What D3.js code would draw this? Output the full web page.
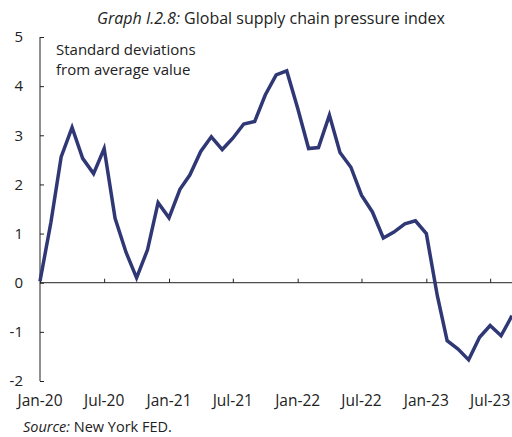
<!DOCTYPE html>
<html>
<head>
<meta charset="utf-8">
<script src="https://cdn.jsdelivr.net/npm/d3@7"></script>
<style>
  body { margin: 0; background: #fff; }
  text { font-family: "Open Sans", "Liberation Sans", sans-serif; fill: #222; }
</style>
</head>
<body>
<div id="chart"></div>
<script>
// monthly GSCPI values, Jan-20 .. Sep-23
const months = d3.timeMonths(new Date(2020, 0, 1), new Date(2023, 9, 1));
const values = [
  0.03, 1.23, 2.56, 3.16, 2.53, 2.22, 2.73, 1.31, 0.62, 0.10, 0.67, 1.63,
  1.32, 1.90, 2.19, 2.67, 2.97, 2.71, 2.94, 3.23, 3.28, 3.82, 4.23, 4.31,
  3.55, 2.73, 2.75, 3.41, 2.65, 2.35, 1.78, 1.44, 0.91, 1.03, 1.20, 1.26,
  1.00, -0.26, -1.18, -1.35, -1.57, -1.11, -0.87, -1.08, -0.67
];
const yTicks = [-2, -1, 0, 1, 2, 3, 4, 5];
const xTicks = d3.timeMonths(new Date(2020, 0, 1), new Date(2023, 7, 1), 6);

const data = months.map((m, i) => ({date: m, value: values[i]}));

// dimensions
const width = 512, height = 437;
const mLeft = 40, mRight = 512, mTop = 37, mBottom = 381;

const x = d3.scaleTime().domain([months[0], months[months.length - 1]]).range([mLeft, mRight]);
const y = d3.scaleLinear().domain([-2, 5]).range([mBottom, mTop]);

const svg = d3.select("#chart").append("svg")
    .attr("width", width)
    .attr("height", height);

// title
const title = svg.append("text").attr("x", 271).attr("y", 24)
    .attr("text-anchor", "middle").attr("font-size", 16);
title.append("tspan").attr("font-style", "italic").text("Graph I.2.8:");
title.append("tspan").text(" Global supply chain pressure index");

// y axis
const yAxis = svg.append("g").attr("transform", `translate(${mLeft},0)`)
    .call(d3.axisLeft(y).tickValues(yTicks).tickSize(-4).tickPadding(17).tickFormat(d3.format("d")));
yAxis.select(".domain").attr("stroke", "#222").attr("d", `M0,${mTop}V${mBottom}`);
yAxis.selectAll(".tick line").attr("stroke", "#222");
yAxis.selectAll(".tick text").attr("font-size", 15).attr("font-family", "Open Sans, sans-serif").attr("fill", "#222")
    .text(d => d < 0 ? "-" + Math.abs(d) : d);

// x axis on zero line
const xAxis = svg.append("g").attr("transform", `translate(0,${y(0)})`)
    .call(d3.axisBottom(x).tickValues(xTicks).tickSize(-4).tickFormat(""));
xAxis.select(".domain").attr("stroke", "#222").attr("d", `M${mLeft},0H${mRight}`);
xAxis.selectAll(".tick line").attr("stroke", "#222");

// x labels at bottom
svg.append("g").selectAll("text")
    .data(xTicks)
    .join("text")
    .attr("x", d => x(d))
    .attr("y", 406)
    .attr("text-anchor", "middle")
    .attr("font-size", 15.5)
    .text(d => d3.timeFormat("%b-%y")(d));

// annotation
svg.append("text").attr("x", 56).attr("y", 55).attr("font-size", 15).text("Standard deviations");
svg.append("text").attr("x", 56).attr("y", 75).attr("font-size", 15).text("from average value");

// line
const line = d3.line().x(d => x(d.date)).y(d => y(d.value));
svg.append("path")
    .datum(data)
    .attr("fill", "none")
    .attr("stroke", "#2f3875")
    .attr("stroke-width", 3.5)
    .attr("stroke-linejoin", "miter")
    .attr("d", line);

// source
const src = svg.append("text").attr("x", 23).attr("y", 432).attr("font-size", 14.5);
src.append("tspan").attr("font-style", "italic").text("Source:");
src.append("tspan").text(" New York FED.");
</script>
</body>
</html>
